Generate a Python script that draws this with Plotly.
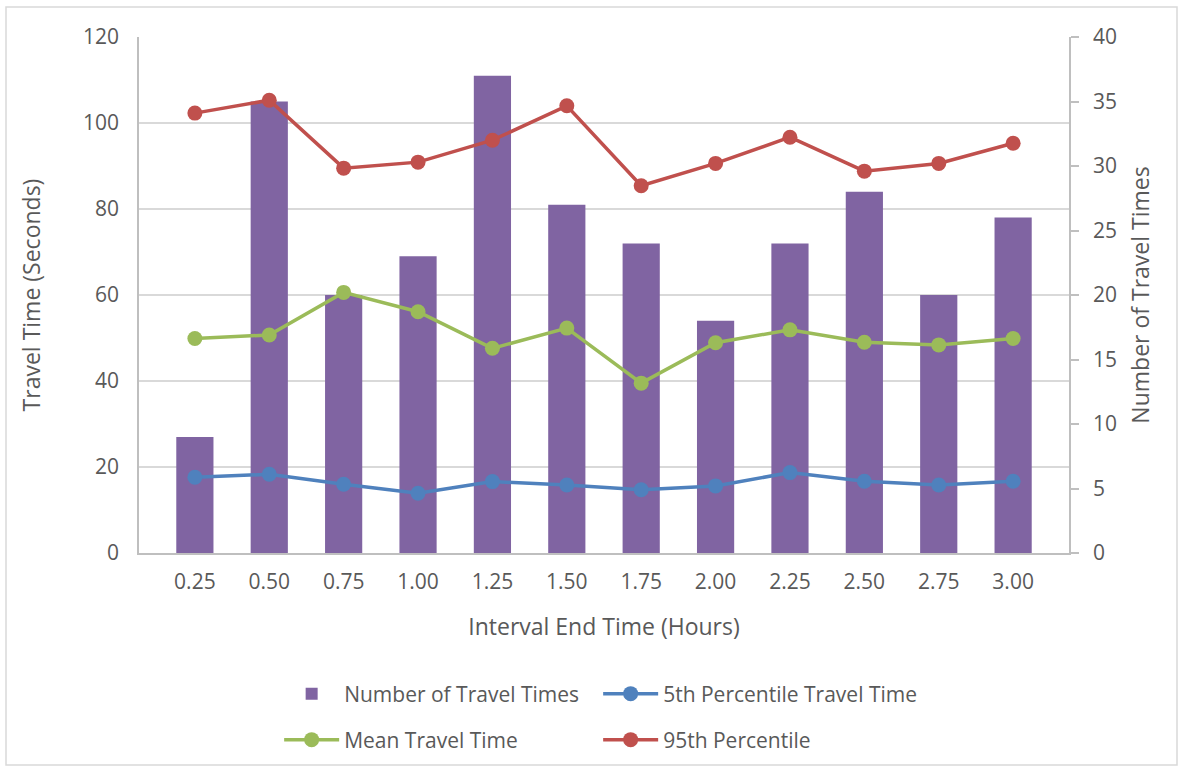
import plotly.graph_objects as go

categories = ["0.25", "0.50", "0.75", "1.00", "1.25", "1.50", "1.75", "2.00", "2.25", "2.50", "2.75", "3.00"]
num_travel_times = [9, 35, 20, 23, 37, 27, 24, 18, 24, 28, 20, 26]
p5_travel_time = [17.6, 18.3, 16.0, 13.9, 16.6, 15.8, 14.7, 15.6, 18.7, 16.7, 15.8, 16.7]
mean_travel_time = [49.9, 50.7, 60.6, 56.1, 47.6, 52.3, 39.5, 48.9, 51.9, 49.0, 48.4, 49.9]
p95_travel_time = [102.3, 105.3, 89.5, 90.9, 96.0, 104.0, 85.4, 90.6, 96.7, 88.8, 90.6, 95.3]

FONT = "Open Sans"
TXT = "#595959"
GRID = "#D9D9D9"
AX = "#BFBFBF"
TICK = 21
TITLE = 23
LEG = 21

fig = go.Figure()
# bars on the base axis (drawn right), lines on the overlaying axis (drawn left) so lines sit on top
fig.add_trace(go.Bar(x=categories, y=num_travel_times, name="Number of Travel Times",
                     marker=dict(color="#8064A2", line=dict(width=0)), width=0.5,
                     yaxis="y", legend="legend"))
fig.add_trace(go.Scatter(x=categories, y=p5_travel_time, name="5th Percentile Travel Time",
                         mode="lines+markers", line=dict(color="#4F81BD", width=3.5),
                         marker=dict(size=15, color="#4F81BD"), yaxis="y2", legend="legend"))
fig.add_trace(go.Scatter(x=categories, y=mean_travel_time, name="Mean Travel Time",
                         mode="lines+markers", line=dict(color="#9BBB59", width=3.5),
                         marker=dict(size=15, color="#9BBB59"), yaxis="y2", legend="legend2"))
fig.add_trace(go.Scatter(x=categories, y=p95_travel_time, name="95th Percentile",
                         mode="lines+markers", line=dict(color="#C0504D", width=3.5),
                         marker=dict(size=15, color="#C0504D"), yaxis="y2", legend="legend2"))

leg_common = dict(orientation="h", xanchor="left", yanchor="middle",
                  entrywidth=249, entrywidthmode="pixels", itemwidth=55,
                  font=dict(size=LEG, color=TXT, family=FONT), traceorder="normal",
                  bgcolor="rgba(0,0,0,0)")

fig.update_layout(
    width=1184, height=772,
    margin=dict(l=139, r=115, t=37, b=219),
    paper_bgcolor="white", plot_bgcolor="white",
    font=dict(family=FONT, color=TXT, size=TICK),
    xaxis=dict(type="category", showgrid=False, showline=True, linecolor=AX, linewidth=1.5,
               ticks="", tickfont=dict(size=TICK, color=TXT), ticklabelstandoff=9,
               title=dict(text="Interval End Time (Hours)", font=dict(size=TITLE, color=TXT), standoff=25)),
    yaxis=dict(range=[0, 40], dtick=5, side="right", showgrid=False,
               showline=True, linecolor=AX, linewidth=1.5, ticks="outside", ticklen=8,
               tickcolor=AX, tickwidth=1.5, zeroline=False, ticklabelstandoff=10,
               tickfont=dict(size=TICK, color=TXT),
               title=dict(text="Number of Travel Times", font=dict(size=TITLE, color=TXT), standoff=17)),
    yaxis2=dict(range=[0, 120], dtick=20, overlaying="y", side="left", showgrid=True,
                gridcolor=GRID, gridwidth=1.5, showline=True, linecolor=AX, linewidth=1.5,
                ticks="", zeroline=False, ticklabelstandoff=14,
                tickfont=dict(size=TICK, color=TXT),
                title=dict(text="Travel Time (Seconds)", font=dict(size=TITLE, color=TXT), standoff=36)),
    legend=dict(x=(279 - 139) / 929, y=(553 - 694) / 516, **leg_common),
    legend2=dict(x=(279 - 139) / 929, y=(553 - 740) / 516, **leg_common),
    showlegend=True,
)

fig.add_shape(type="rect", xref="paper", yref="paper",
              x0=(6 - 139) / 930, x1=(1177 - 139) / 930,
              y0=(553 - 765) / 516, y1=(553 - 7) / 516,
              line=dict(color="#D9D9D9", width=1.5), fillcolor="rgba(0,0,0,0)", layer="below")

fig.write_html("out.html")
